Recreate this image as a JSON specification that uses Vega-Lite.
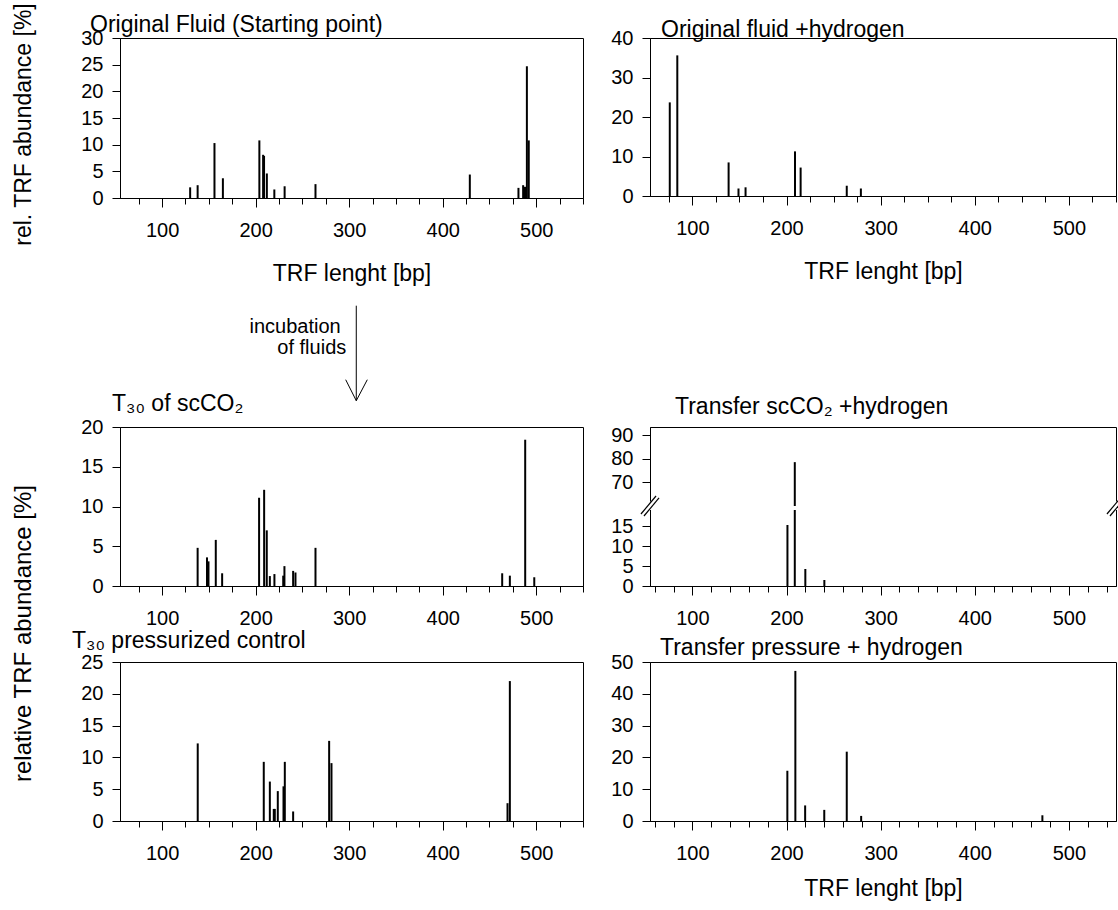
{
  "$schema": "https://vega.github.io/schema/vega-lite/v6.json",
  "background": "white",
  "padding": {"left": 11, "top": 2, "right": 0, "bottom": 0},
  "columns": 2,
  "bounds": "flush",
  "spacing": {"row": 76, "column": 67},
  "datasets": {
    "tl": [
      {"len": 130, "ab": 2.0}, {"len": 138, "ab": 2.4}, {"len": 156, "ab": 10.3}, {"len": 165, "ab": 3.7},
      {"len": 204, "ab": 10.8}, {"len": 208, "ab": 8.1}, {"len": 209, "ab": 7.9}, {"len": 212, "ab": 4.6},
      {"len": 220, "ab": 1.6}, {"len": 231, "ab": 2.2}, {"len": 264, "ab": 2.6}, {"len": 429, "ab": 4.4},
      {"len": 481, "ab": 1.9}, {"len": 486, "ab": 2.4}, {"len": 488, "ab": 2.1}, {"len": 490, "ab": 24.7},
      {"len": 492, "ab": 10.8}
    ],
    "tr": [
      {"len": 76, "ab": 23.7}, {"len": 84, "ab": 35.6}, {"len": 138.5, "ab": 8.5}, {"len": 149, "ab": 1.9},
      {"len": 156.5, "ab": 2.2}, {"len": 209, "ab": 11.3}, {"len": 215, "ab": 7.2}, {"len": 264, "ab": 2.6},
      {"len": 279, "ab": 1.9}
    ],
    "ml": [
      {"len": 138, "ab": 4.8}, {"len": 148, "ab": 3.6}, {"len": 149.6, "ab": 3.1}, {"len": 157.4, "ab": 5.8},
      {"len": 164.2, "ab": 1.6}, {"len": 203.7, "ab": 11.1}, {"len": 209.1, "ab": 12.1}, {"len": 211.9, "ab": 7.0},
      {"len": 215.2, "ab": 1.25}, {"len": 220.1, "ab": 1.5}, {"len": 229.5, "ab": 1.3}, {"len": 230.8, "ab": 2.5},
      {"len": 240.1, "ab": 1.9}, {"len": 242.6, "ab": 1.7}, {"len": 264, "ab": 4.8}, {"len": 463.6, "ab": 1.6},
      {"len": 471.8, "ab": 1.3}, {"len": 488.2, "ab": 18.4}, {"len": 497.9, "ab": 1.1}
    ],
    "mr": [
      {"len": 201, "ab": 15.25}, {"len": 208.8, "ab": 78.6}, {"len": 220, "ab": 4.25}, {"len": 240.2, "ab": 1.5}
    ],
    "mr_gap": [
      {"len": 52, "len2": 553, "ab": 19, "ab2": 60}
    ],
    "mr_band": [
      {"len": 47.0, "len2": 62.97, "ab": 17.75, "ab2": 63.8},
      {"len": 542.0, "len2": 557.97, "ab": 17.75, "ab2": 63.8}
    ],
    "mr_break": [
      {"len": 45.4, "len2": 61.4, "ab": 18.0, "ab2": 64.24},
      {"len": 48.6, "len2": 64.6, "ab": 17.5, "ab2": 63.4},
      {"len": 540.4, "len2": 556.4, "ab": 18.0, "ab2": 64.24},
      {"len": 543.6, "len2": 559.6, "ab": 17.5, "ab2": 63.4}
    ],
    "bl": [
      {"len": 138.1, "ab": 12.2}, {"len": 208.7, "ab": 9.3}, {"len": 215.2, "ab": 6.2}, {"len": 219.4, "ab": 1.9},
      {"len": 220.5, "ab": 1.9}, {"len": 223.7, "ab": 4.7}, {"len": 229.8, "ab": 5.45}, {"len": 231.2, "ab": 9.3},
      {"len": 240.1, "ab": 1.5}, {"len": 278.6, "ab": 12.6}, {"len": 281.1, "ab": 9.1}, {"len": 469.3, "ab": 2.8},
      {"len": 471.8, "ab": 22.0}
    ],
    "br": [
      {"len": 200.9, "ab": 15.8}, {"len": 209.4, "ab": 47.2}, {"len": 219.8, "ab": 4.9}, {"len": 240.1, "ab": 3.5},
      {"len": 264, "ab": 21.8}, {"len": 279.3, "ab": 1.6}, {"len": 471.8, "ab": 1.8}
    ],
    "arrow": [
      {"x": 307.6, "y": 45.3, "x2": 307.6, "y2": -49.7},
      {"x": 296.3, "y": -28.7, "x2": 307.6, "y2": -49.7},
      {"x": 319.4, "y": -28.7, "x2": 307.6, "y2": -49.7}
    ],
    "arrow_text": [
      {"x": 291.0, "y": 23.7, "t": "incubation"},
      {"x": 296.9, "y": 2.7, "t": "of fluids"}
    ]
  },
  "concat": [
    {
      "width": 463, "height": 160,
      "title": {"text": "Original Fluid (Starting point)", "dx": -30, "offset": -52, "frame": "group", "anchor": "start", "baseline": "alphabetic"},
      "data": {"name": "tl"},
      "mark": {"type": "rule", "strokeWidth": 2, "color": "#000"},
      "encoding": {
        "x": {"field": "len", "type": "quantitative", "scale": {"domain": [55, 550], "nice": false, "zero": false},
          "axis": {"values": [75,100,125,150,175,200,225,250,275,300,325,350,375,400,425,450,475,500,525,550],
            "tickSize": {"condition": {"test": "datum.value % 100 === 0", "value": 9}, "value": 6},
            "labelExpr": "datum.value % 100 === 0 ? datum.label : ''",
            "labelPadding": 13, "title": "TRF lenght [bp]", "titlePadding": 22}},
        "y": {"field": "ab", "type": "quantitative", "scale": {"domain": [0, 30], "nice": false},
          "axis": {"values": [0,5,10,15,20,25,30], "title": "rel. TRF abundance [%]", "titlePadding": 45, "titleY": 86}},
        "y2": {"datum": 0}
      }
    },
    {
      "width": 466, "height": 158,
      "title": {"text": "Original fluid +hydrogen", "dx": 11, "offset": -32, "frame": "group", "anchor": "start", "baseline": "alphabetic"},
      "data": {"name": "tr"},
      "mark": {"type": "rule", "strokeWidth": 2, "color": "#000"},
      "encoding": {
        "x": {"field": "len", "type": "quantitative", "scale": {"domain": [55, 550], "nice": false, "zero": false},
          "axis": {"values": [75,100,125,150,175,200,225,250,275,300,325,350,375,400,425,450,475,500,525,550],
            "tickSize": {"condition": {"test": "datum.value % 100 === 0", "value": 9}, "value": 6},
            "labelExpr": "datum.value % 100 === 0 ? datum.label : ''",
            "labelPadding": 13, "title": "TRF lenght [bp]", "titlePadding": 22}},
        "y": {"field": "ab", "type": "quantitative", "scale": {"domain": [0, 40], "nice": false},
          "axis": {"values": [0,10,20,30,40], "title": null}},
        "y2": {"datum": 0}
      }
    },
    {
      "width": 463, "height": 77,
      "view": {"stroke": null},
      "layer": [
        {
          "data": {"name": "arrow"},
          "mark": {"type": "rule", "strokeWidth": 1, "color": "#000"},
          "encoding": {
            "x": {"field": "x", "type": "quantitative", "scale": {"domain": [55, 550], "nice": false, "zero": false}, "axis": null},
            "y": {"field": "y", "type": "quantitative", "scale": {"domain": [0, 77], "nice": false, "zero": false}, "axis": null},
            "x2": {"field": "x2"},
            "y2": {"field": "y2"}
          }
        },
        {
          "data": {"name": "arrow_text"},
          "mark": {"type": "text", "align": "right", "baseline": "middle", "fontSize": 20, "font": "Liberation Sans", "color": "#000"},
          "encoding": {
            "x": {"field": "x", "type": "quantitative", "scale": {"domain": [55, 550], "nice": false, "zero": false}, "axis": null},
            "y": {"field": "y", "type": "quantitative", "scale": {"domain": [0, 77], "nice": false, "zero": false}, "axis": null},
            "text": {"field": "t"}
          }
        }
      ]
    },
    {
      "width": 466, "height": 77,
      "view": {"stroke": null},
      "data": {"values": [{"a": 1}]},
      "mark": {"type": "point", "opacity": 0},
      "encoding": {}
    },
    {
      "width": 463, "height": 159,
      "title": {"text": "T₃₀ of scCO₂", "dx": -8, "offset": -17, "frame": "group", "anchor": "start", "baseline": "alphabetic"},
      "data": {"name": "ml"},
      "mark": {"type": "rule", "strokeWidth": 2, "color": "#000"},
      "encoding": {
        "x": {"field": "len", "type": "quantitative", "scale": {"domain": [55, 550], "nice": false, "zero": false},
          "axis": {"values": [75,100,125,150,175,200,225,250,275,300,325,350,375,400,425,450,475,500,525,550],
            "tickSize": {"condition": {"test": "datum.value % 100 === 0", "value": 9}, "value": 6},
            "labelExpr": "datum.value % 100 === 0 ? datum.label : ''",
            "labelPadding": 13, "title": null}},
        "y": {"field": "ab", "type": "quantitative", "scale": {"domain": [0, 20], "nice": false},
          "axis": {"values": [0,5,10,15,20], "title": "relative TRF abundance [%]", "titlePadding": 45, "titleY": 206, "titleFontSize": 24}},
        "y2": {"datum": 0}
      }
    },
    {
      "width": 466, "height": 159,
      "title": {"text": "Transfer scCO₂ +hydrogen", "dx": 25, "offset": -12, "frame": "group", "anchor": "start", "baseline": "alphabetic"},
      "encoding": {
        "x": {"field": "len", "type": "quantitative", "scale": {"domain": [55, 550], "nice": false, "zero": false},
          "axis": {"values": [60,80,100,120,140,160,180,200,220,240,260,280,300,320,340,360,380,400,420,440,460,480,500,520,540],
            "tickSize": {"condition": {"test": "datum.value % 100 === 0", "value": 9}, "value": 6},
            "labelExpr": "datum.value % 100 === 0 ? datum.label : ''",
            "labelPadding": 13, "title": null}},
        "y": {"field": "ab", "type": "quantitative", "scale": {"domain": [0, 19, 60, 93.5], "range": [159, 83, 79, 0], "nice": false, "zero": false},
          "axis": {"values": [0,5,10,15,70,80,90], "title": null}}
      },
      "layer": [
        {"data": {"name": "mr"}, "mark": {"type": "rule", "strokeWidth": 2, "color": "#000"}, "encoding": {"y2": {"datum": 0}}},
        {"data": {"name": "mr_gap"}, "mark": {"type": "rect", "color": "white"}, "encoding": {"x2": {"field": "len2"}, "y2": {"field": "ab2"}}},
        {"data": {"name": "mr_band"}, "mark": {"type": "rule", "color": "white", "strokeWidth": 5}, "encoding": {"x2": {"field": "len2"}, "y2": {"field": "ab2"}}},
        {"data": {"name": "mr_break"}, "mark": {"type": "rule", "color": "#000", "strokeWidth": 1.2}, "encoding": {"x2": {"field": "len2"}, "y2": {"field": "ab2"}}}
      ]
    },
    {
      "width": 463, "height": 159,
      "title": {"text": "T₃₀ pressurized control", "dx": -48, "offset": -19, "frame": "group", "anchor": "start", "baseline": "alphabetic"},
      "data": {"name": "bl"},
      "mark": {"type": "rule", "strokeWidth": 2, "color": "#000"},
      "encoding": {
        "x": {"field": "len", "type": "quantitative", "scale": {"domain": [55, 550], "nice": false, "zero": false},
          "axis": {"values": [75,100,125,150,175,200,225,250,275,300,325,350,375,400,425,450,475,500,525,550],
            "tickSize": {"condition": {"test": "datum.value % 100 === 0", "value": 9}, "value": 6},
            "labelExpr": "datum.value % 100 === 0 ? datum.label : ''",
            "labelPadding": 13, "title": null}},
        "y": {"field": "ab", "type": "quantitative", "scale": {"domain": [0, 25], "nice": false},
          "axis": {"values": [0,5,10,15,20,25], "title": null}},
        "y2": {"datum": 0}
      }
    },
    {
      "width": 466, "height": 159,
      "title": {"text": "Transfer pressure + hydrogen", "dx": 10, "offset": -26, "frame": "group", "anchor": "start", "baseline": "alphabetic"},
      "data": {"name": "br"},
      "mark": {"type": "rule", "strokeWidth": 2, "color": "#000"},
      "encoding": {
        "x": {"field": "len", "type": "quantitative", "scale": {"domain": [55, 550], "nice": false, "zero": false},
          "axis": {"values": [60,80,100,120,140,160,180,200,220,240,260,280,300,320,340,360,380,400,420,440,460,480,500,520,540],
            "tickSize": {"condition": {"test": "datum.value % 100 === 0", "value": 9}, "value": 6},
            "labelExpr": "datum.value % 100 === 0 ? datum.label : ''",
            "labelPadding": 13, "title": "TRF lenght [bp]", "titlePadding": 14}},
        "y": {"field": "ab", "type": "quantitative", "scale": {"domain": [0, 50], "nice": false},
          "axis": {"values": [0,10,20,30,40,50], "title": null}},
        "y2": {"datum": 0}
      }
    }
  ],
  "config": {
    "font": "Liberation Sans",
    "view": {"stroke": "#000", "strokeWidth": 1},
    "axis": {
      "domainColor": "#000", "tickColor": "#000", "labelColor": "#000", "titleColor": "#000",
      "labelFont": "Liberation Sans", "titleFont": "Liberation Sans",
      "labelFontSize": 20, "titleFontSize": 23, "titleFontWeight": "normal",
      "grid": false, "labelFlush": false, "labelOverlap": false, "tickWidth": 1, "domainWidth": 1
    },
    "axisY": {"tickSize": 8, "labelPadding": 9},
    "title": {"fontSize": 23, "fontWeight": "normal", "anchor": "start", "frame": "group", "color": "#000", "font": "Liberation Sans", "baseline": "alphabetic"}
  }
}
